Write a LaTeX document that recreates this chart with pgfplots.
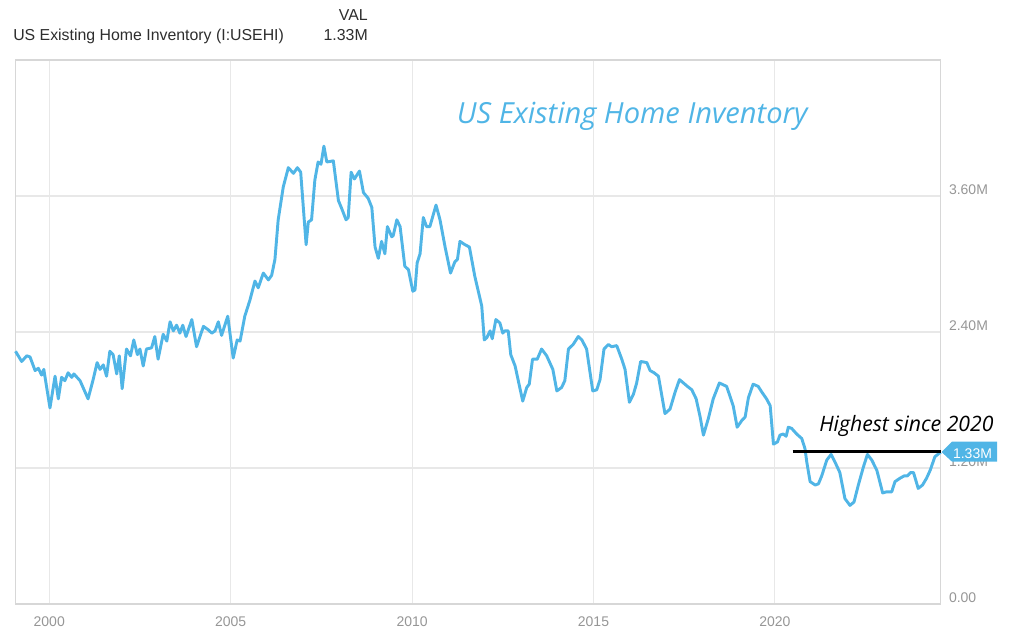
\documentclass[border=0pt]{standalone}
\usepackage{fontspec}
\setmainfont{Liberation Sans}
\newfontfamily\hand{Open Sans}
\usepackage{pgfplots}
\pgfplotsset{compat=1.18}
\definecolor{lineblue}{RGB}{80,181,230}
\definecolor{tickgray}{RGB}{150,150,150}
\definecolor{gridgray}{RGB}{232,232,232}
\definecolor{framegray}{RGB}{215,215,215}
\definecolor{headdark}{RGB}{45,45,45}

\pgfplotstableread{
year value
1999.07 2.23
1999.24 2.14
1999.38 2.19
1999.47 2.18
1999.61 2.06
1999.70 2.08
1999.79 2.02
1999.85 2.07
2000.02 1.73
2000.16 2.01
2000.25 1.81
2000.34 2.00
2000.43 1.97
2000.52 2.04
2000.62 2.00
2000.68 2.03
2000.85 1.97
2001.07 1.81
2001.21 1.98
2001.32 2.13
2001.40 2.07
2001.49 2.11
2001.58 2.01
2001.67 2.23
2001.76 2.20
2001.86 2.03
2001.93 2.19
2002.01 1.90
2002.13 2.25
2002.24 2.19
2002.33 2.33
2002.43 2.20
2002.50 2.25
2002.59 2.10
2002.68 2.25
2002.82 2.26
2002.91 2.36
2003.00 2.16
2003.14 2.38
2003.24 2.32
2003.33 2.49
2003.42 2.41
2003.51 2.46
2003.60 2.39
2003.68 2.46
2003.77 2.36
2003.93 2.51
2004.06 2.27
2004.25 2.45
2004.38 2.42
2004.48 2.39
2004.57 2.41
2004.66 2.49
2004.75 2.37
2004.92 2.54
2005.07 2.17
2005.18 2.33
2005.26 2.32
2005.39 2.54
2005.53 2.68
2005.67 2.85
2005.76 2.79
2005.90 2.92
2006.04 2.86
2006.13 2.90
2006.22 3.04
2006.31 3.39
2006.45 3.68
2006.59 3.85
2006.73 3.80
2006.84 3.85
2006.93 3.81
2007.08 3.17
2007.14 3.37
2007.23 3.39
2007.32 3.74
2007.41 3.90
2007.49 3.88
2007.57 4.04
2007.65 3.90
2007.83 3.91
2007.97 3.56
2008.06 3.49
2008.18 3.39
2008.24 3.41
2008.32 3.81
2008.41 3.75
2008.55 3.82
2008.66 3.63
2008.79 3.58
2008.89 3.50
2008.98 3.15
2009.07 3.05
2009.16 3.20
2009.25 3.09
2009.32 3.33
2009.44 3.24
2009.48 3.25
2009.58 3.39
2009.67 3.33
2009.80 2.98
2009.90 2.95
2010.02 2.76
2010.08 2.77
2010.14 3.01
2010.22 3.09
2010.31 3.41
2010.40 3.33
2010.49 3.33
2010.66 3.52
2010.77 3.39
2010.91 3.15
2011.06 2.92
2011.18 3.02
2011.25 3.04
2011.32 3.20
2011.46 3.17
2011.58 3.15
2011.73 2.89
2011.92 2.63
2011.99 2.33
2012.06 2.35
2012.15 2.41
2012.21 2.34
2012.31 2.51
2012.42 2.48
2012.50 2.39
2012.56 2.41
2012.65 2.41
2012.72 2.20
2012.84 2.10
2013.05 1.79
2013.16 1.91
2013.23 1.94
2013.32 2.16
2013.45 2.16
2013.57 2.25
2013.71 2.19
2013.88 2.07
2013.99 1.88
2014.12 1.91
2014.21 1.97
2014.31 2.25
2014.44 2.29
2014.58 2.36
2014.68 2.33
2014.81 2.25
2014.98 1.88
2015.09 1.89
2015.18 1.98
2015.29 2.25
2015.41 2.29
2015.50 2.27
2015.64 2.28
2015.78 2.16
2015.87 2.07
2015.99 1.78
2016.10 1.85
2016.19 1.95
2016.30 2.14
2016.47 2.13
2016.56 2.06
2016.67 2.04
2016.79 2.01
2016.97 1.68
2017.11 1.72
2017.25 1.87
2017.37 1.98
2017.48 1.95
2017.59 1.92
2017.71 1.89
2017.83 1.81
2017.94 1.65
2018.03 1.49
2018.16 1.63
2018.30 1.81
2018.47 1.95
2018.67 1.92
2018.85 1.75
2018.96 1.56
2019.09 1.62
2019.18 1.65
2019.27 1.82
2019.40 1.94
2019.54 1.92
2019.64 1.87
2019.77 1.81
2019.87 1.75
2019.96 1.41
2020.07 1.43
2020.14 1.49
2020.23 1.50
2020.31 1.48
2020.37 1.56
2020.46 1.55
2020.60 1.50
2020.74 1.46
2020.83 1.37
2020.88 1.25
2020.97 1.08
2021.11 1.05
2021.20 1.06
2021.29 1.13
2021.43 1.27
2021.55 1.32
2021.66 1.25
2021.79 1.16
2021.93 0.93
2022.07 0.87
2022.18 0.90
2022.30 1.05
2022.44 1.21
2022.55 1.32
2022.67 1.27
2022.81 1.18
2022.97 0.98
2023.08 0.99
2023.22 0.99
2023.31 1.08
2023.45 1.11
2023.56 1.13
2023.65 1.13
2023.74 1.16
2023.82 1.16
2023.95 1.02
2024.07 1.05
2024.18 1.11
2024.28 1.18
2024.41 1.30
2024.57 1.34
}\inventory

\begin{document}
\begin{tikzpicture}[x=0.75pt,y=0.75pt]
\useasboundingbox (0,0) rectangle (1024,643);

% header
\node[anchor=base west, inner sep=0, text=headdark, font=\fontsize{11.9}{14}\selectfont] at (13,602.3) {US Existing Home Inventory (I:USEHI)};
\node[anchor=base east, inner sep=0, text=headdark, font=\fontsize{11.9}{14}\selectfont] at (368,622.3) {VAL};
\node[anchor=base east, inner sep=0, text=headdark, font=\fontsize{11.9}{14}\selectfont] at (368,602.3) {1.33M};

\begin{axis}[
    at={(11.625pt,29.25pt)}, anchor=south west,
    scale only axis,
    width=693.9pt, height=408pt,
    xmin=1999.07, xmax=2024.57,
    ymin=0, ymax=4.8,
    xtick={2000,2005,2010,2015,2020},
    xticklabels={2000,2005,2010,2015,2020},
    ytick={0,1.2,2.4,3.6},
    yticklabels={0.00,1.20M,2.40M,3.60M},
    yticklabel pos=right,
    major tick length=0pt,
    grid=major,
    major grid style={gridgray, line width=0.8pt},
    axis line style={framegray, line width=0.9pt},
    ticklabel style={font=\fontsize{10.5}{12}\selectfont, text=tickgray},
    xticklabel style={anchor=north, yshift=-6pt},
    yticklabel style={anchor=base west, xshift=2.7pt, yshift=1.5pt},
    clip=false,
]
\addplot[lineblue, line width=2.2pt, line join=round] table[x=year, y=value] {\inventory};
\draw[black, line width=2.2pt] (axis cs:2020.49,1.345) -- (axis cs:2024.57,1.345);
\end{axis}

% value tag on the right axis
\fill[lineblue] (941.5,191) -- (952,201.3) -- (997,201.3) -- (997,181.3) -- (952,181.3) -- cycle;
\node[anchor=base, inner sep=0, text=white, font=\fontsize{10.5}{12}\selectfont] at (972.5,184.7) {1.33M};

% annotations
\node[anchor=base west, inner sep=0, text=lineblue, font=\hand\itshape\fontsize{21.8}{26}\selectfont] at (456.7,519.7) {US Existing Home Inventory};
\node[anchor=base west, inner sep=0, text=black, font=\hand\itshape\fontsize{15.9}{19}\selectfont] at (819,211.3) {Highest since 2020};
\end{tikzpicture}
\end{document}
